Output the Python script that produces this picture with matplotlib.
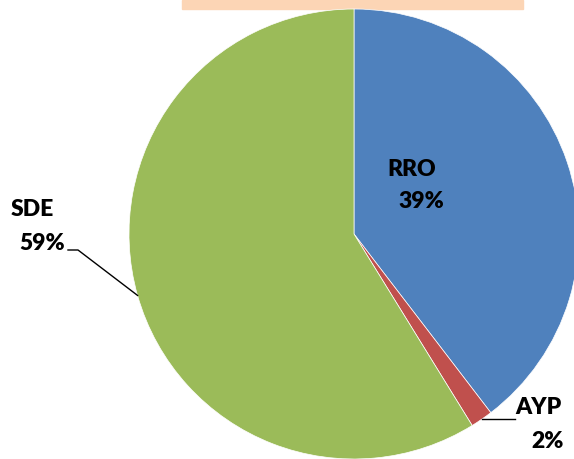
import numpy as np
import matplotlib.pyplot as plt

labels = ['RRO', 'AYP', 'SDE']
shares = [39.6, 1.6, 58.8]
pct_text = ['39%', '2%', '59%']
colors = ['#4F81BD', '#C0504D', '#9BBB59']

W, H = 574, 459
fig = plt.figure(figsize=(W / 100, H / 100), dpi=100)
ax = fig.add_axes([0, 0, 1, 1])

cx, cy, r = 354, H - 234, 225
wedges, _ = ax.pie(shares, colors=colors, startangle=90, counterclock=False,
                   center=(cx, cy), radius=r,
                   wedgeprops=dict(edgecolor='white', linewidth=0.5))
ax.set_xlim(0, W)
ax.set_ylim(0, H)
ax.axis('off')

# peach strip at the top (title box remnant)
ax.add_patch(plt.Rectangle((182, H - 9), 341, 9, color='#FCD5B5', zorder=0))


def edge_point(w):
    mid = np.deg2rad((w.theta1 + w.theta2) / 2)
    return cx + r * np.cos(mid), cy + r * np.sin(mid)


font = dict(family=['Lato', 'DejaVu Sans'], fontsize=16.5, fontweight='heavy', color='black')

# RRO inside
ax.text(412, H - 170, labels[0], ha='center', va='center', **font)
ax.text(421, H - 202, pct_text[0], ha='center', va='center', **font)

# AYP outside with leader
px, py = edge_point(wedges[1])
ax.plot([px, 515], [py, py], color='black', lw=1)
ax.text(538, H - 408, labels[1], ha='center', va='center', **font)
ax.text(548, H - 442, pct_text[1], ha='center', va='center', **font)

# SDE outside with leader
px, py = edge_point(wedges[2])
ax.plot([68, 78, px], [H - 250, H - 250, py], color='black', lw=1)
ax.text(32, H - 210, labels[2], ha='center', va='center', **font)
ax.text(42, H - 243, pct_text[2], ha='center', va='center', **font)

fig.savefig('out.png', dpi=100)
